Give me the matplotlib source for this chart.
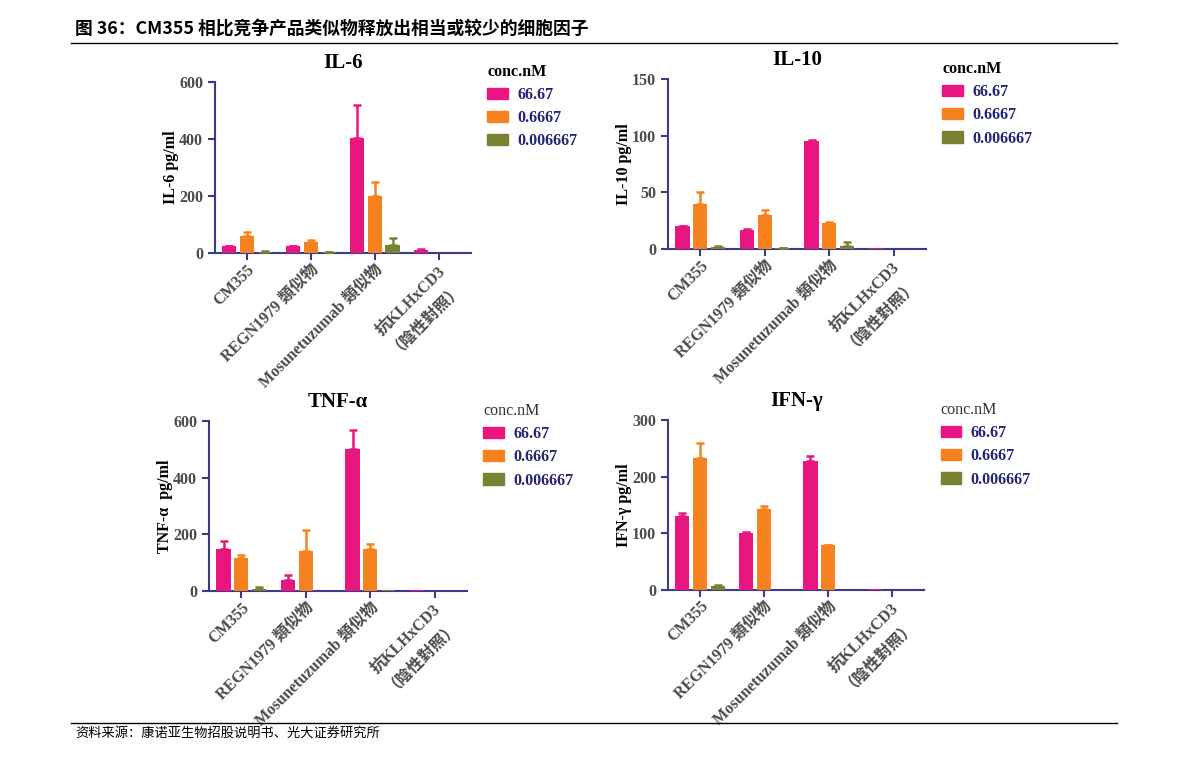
import numpy as np
import matplotlib.pyplot as plt
from matplotlib.lines import Line2D

plt.rcParams['font.family'] = ['Liberation Serif', 'Noto Sans CJK TC']

groups = ['CM355', 'REGN1979 類似物', 'Mosunetuzumab 類似物', '抗KLHxCD3\n（陰性對照）']
conc = ['66.67', '0.6667', '0.006667']
colors = ['#ea1680', '#f5821f', '#7a8232']

# IL-6
il6_hi = [25, 25, 405, 10]
il6_hi_sd = [1, 1, 115, 5]
il6_mid = [61, 40, 200, 0]
il6_mid_sd = [14, 4, 48, 0]
il6_lo = [5, 4, 28, 0]
il6_lo_sd = [3, 1, 24, 0]

# IL-10
il10_hi = [20, 17, 95, 1]
il10_hi_sd = [0.5, 0.3, 1, 0]
il10_mid = [40, 30, 23, 0]
il10_mid_sd = [10, 4, 1, 0]
il10_lo = [2, 1, 3, 0]
il10_lo_sd = [0.3, 0.2, 3, 0]

# TNF-a
tnf_hi = [150, 40, 500, 3]
tnf_hi_sd = [28, 17, 68, 0]
tnf_mid = [115, 143, 147, 0]
tnf_mid_sd = [13, 72, 20, 0]
tnf_lo = [8, 0, 2, 0]
tnf_lo_sd = [7, 0, 0, 0]

# IFN-g
ifn_hi = [130, 100, 228, 1.5]
ifn_hi_sd = [5, 2, 9, 0]
ifn_mid = [232, 143, 79, 0]
ifn_mid_sd = [28, 5, 1, 0]
ifn_lo = [7, 0, 0, 0]
ifn_lo_sd = [2, 0, 0, 0]

panels = [
    dict(title='IL-6', ylabel='IL-6 pg/ml', yticks=[0, 200, 400, 600],
         means=[il6_hi, il6_mid, il6_lo], sds=[il6_hi_sd, il6_mid_sd, il6_lo_sd],
         pos=[0.1805, 0.6667, 0.2149, 0.2253], bold_head=True),
    dict(title='IL-10', ylabel='IL-10 pg/ml', yticks=[0, 50, 100, 150],
         means=[il10_hi, il10_mid, il10_lo], sds=[il10_hi_sd, il10_mid_sd, il10_lo_sd],
         pos=[0.5609, 0.6719, 0.2166, 0.2240], bold_head=True),
    dict(title='TNF-α', ylabel='TNF-α  pg/ml', yticks=[0, 200, 400, 600],
         means=[tnf_hi, tnf_mid, tnf_lo], sds=[tnf_hi_sd, tnf_mid_sd, tnf_lo_sd],
         pos=[0.1755, 0.2213, 0.2166, 0.2240], bold_head=False),
    dict(title='IFN-γ', ylabel='IFN-γ pg/ml', yticks=[0, 100, 200, 300],
         means=[ifn_hi, ifn_mid, ifn_lo], sds=[ifn_hi_sd, ifn_mid_sd, ifn_lo_sd],
         pos=[0.5609, 0.2227, 0.2150, 0.2240], bold_head=False),
]

axis_col = '#3b3b8c'
tick_col = '#4a4a4a'
leg_col = '#23237a'

fig = plt.figure(figsize=(11.91, 7.59), dpi=100)

x = np.arange(len(groups))
w = 0.22
off = 0.275
for p in panels:
    ax = fig.add_axes(p['pos'])
    for i in range(3):
        xs = x + (i - 1) * off
        m = np.array(p['means'][i], dtype=float)
        sd = np.array(p['sds'][i], dtype=float)
        ax.bar(xs, m, width=w, color=colors[i], label=conc[i], zorder=3)
        keep = sd > 0
        ax.errorbar(xs[keep], m[keep], yerr=[np.zeros(keep.sum()), sd[keep]], fmt='none',
                    ecolor=colors[i], elinewidth=1.8, capsize=3, capthick=1.8, zorder=4)
    ax.set_xlim(-0.5, 3.5)
    ax.set_ylim(0, p['yticks'][-1])
    ax.set_yticks(p['yticks'])
    ax.set_xticks(x)
    ax.set_xticklabels(groups, rotation=45, ha='right', rotation_mode='anchor',
                       fontsize=11.5, fontweight='bold', color=tick_col, ma='center')
    for lab in ax.get_yticklabels():
        lab.set_fontsize(11.5)
        lab.set_fontweight('bold')
        lab.set_color(tick_col)
    for s in ['top', 'right']:
        ax.spines[s].set_visible(False)
    for s in ['left', 'bottom']:
        ax.spines[s].set_color(axis_col)
        ax.spines[s].set_linewidth(1.5)
    ax.tick_params(colors=axis_col, width=1.5, length=5)
    ax.tick_params(axis='x', labelcolor=tick_col, pad=1)
    ax.tick_params(axis='y', labelcolor=tick_col)
    ax.set_title(p['title'], fontsize=15, fontweight='bold', pad=10)
    ax.set_ylabel(p['ylabel'], fontsize=11.5, fontweight='bold', labelpad=0)

    handles = [plt.Rectangle((0, 0), 1, 1, color=c) for c in colors]
    leg = ax.legend(handles, conc, loc='upper left', bbox_to_anchor=(1.008, 1.19),
                    frameon=False, title='conc.nM', alignment='left',
                    handlelength=1.3, handleheight=0.7, handletextpad=0.6,
                    labelspacing=0.45, prop={'weight': 'bold', 'size': 11.5})
    for t in leg.get_texts():
        t.set_color(leg_col)
    leg.get_title().set_fontsize(11.5)
    if p['bold_head']:
        leg.get_title().set_fontweight('bold')
    else:
        leg.get_title().set_color('#333333')

fig.text(0.063, 0.962, '图 36：CM355 相比竞争产品类似物释放出相当或较少的细胞因子',
         fontsize=12.8, fontweight='bold', family=['Noto Sans CJK SC', 'DejaVu Sans'],
         va='center', ha='left')
fig.add_artist(Line2D([0.06, 0.938], [0.943, 0.943], color='black', linewidth=1))
fig.add_artist(Line2D([0.06, 0.938], [0.047, 0.047], color='black', linewidth=1))
fig.text(0.063, 0.034, '资料来源：康诺亚生物招股说明书、光大证券研究所',
         fontsize=9.5, family=['Noto Sans CJK SC', 'DejaVu Sans'], va='center', ha='left')

fig.savefig('out.png', dpi=100)
